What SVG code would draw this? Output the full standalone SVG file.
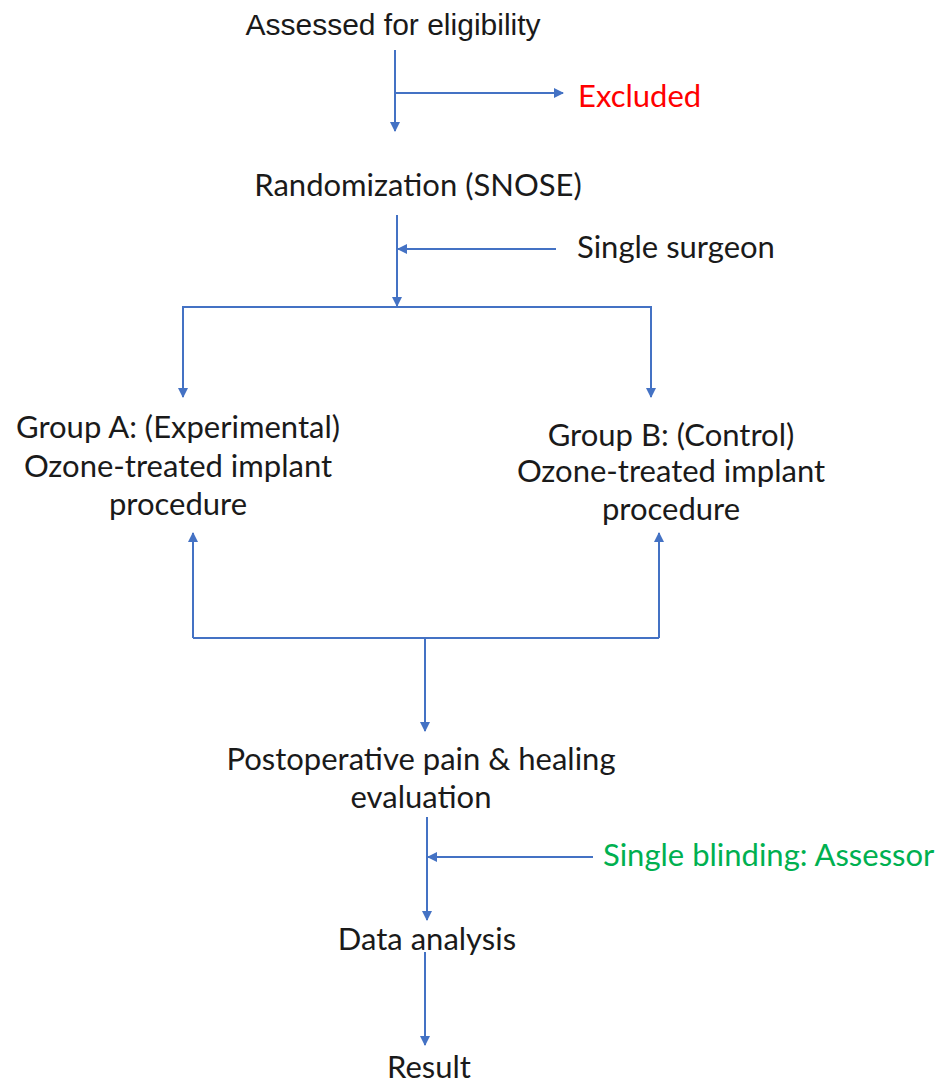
<svg xmlns="http://www.w3.org/2000/svg" width="947" height="1086" viewBox="0 0 947 1086">
<defs>
<marker id="ah" markerWidth="10" markerHeight="10" viewBox="0 0 10 10" refX="9" refY="5" orient="auto" markerUnits="userSpaceOnUse">
<path d="M0,0 L10,5 L0,10 z" fill="#4472C4"/>
</marker>
</defs>
<style>
.c{fill:none;stroke:#4472C4;stroke-width:2}
.t{font-family:Lato,"Noto Sans",sans-serif;font-size:31px;fill:#1a1a1a;text-anchor:middle}
.a{font-family:"Liberation Sans",Arial,sans-serif;font-size:30px;fill:#1a1a1a;text-anchor:middle}
</style>
<rect width="947" height="1086" fill="#fff"/>
<g id="connectors">
<path class="c" d="M395,50 V131" marker-end="url(#ah)"/>
<path class="c" d="M395,93 H563" marker-end="url(#ah)"/>
<path class="c" d="M397,215 V306" marker-end="url(#ah)"/>
<path class="c" d="M556,249 H398" marker-end="url(#ah)"/>
<path class="c" d="M183,397 V307 H651 V397" marker-end="url(#ah)"/>
<path class="c" d="M183,307 V397" marker-end="url(#ah)"/>
<path class="c" d="M193,638 V533" marker-end="url(#ah)"/>
<path class="c" d="M659,638 V533" marker-end="url(#ah)"/>
<path class="c" d="M193,638 H659"/>
<path class="c" d="M425,638 V731" marker-end="url(#ah)"/>
<path class="c" d="M427,817 V920" marker-end="url(#ah)"/>
<path class="c" d="M593,857 H428" marker-end="url(#ah)"/>
<path class="c" d="M425,952 V1045" marker-end="url(#ah)"/>
</g>
<g id="assessed"><text class="a" x="393" y="35">Assessed for eligibility</text></g>
<g id="excluded"><text class="t" x="578" y="107" style="text-anchor:start;fill:#FF0000">Excluded</text></g>
<g id="randomization"><text class="t" x="418" y="196">Randomization (SNOSE)</text></g>
<g id="surgeon"><text class="t" x="577" y="258" style="text-anchor:start">Single surgeon</text></g>
<g id="groupA"><text class="t" x="178" y="438">Group A: (Experimental)</text><text class="t" x="178" y="477">Ozone-treated implant</text><text class="t" x="178" y="515">procedure</text></g>
<g id="groupB"><text class="t" x="671" y="446">Group B: (Control)</text><text class="t" x="671" y="482">Ozone-treated implant</text><text class="t" x="671" y="520">procedure</text></g>
<g id="postop"><text class="t" x="421" y="770">Postoperative pain &amp; healing</text><text class="t" x="421" y="808">evaluation</text></g>
<g id="blinding"><text class="t" x="603" y="866" style="text-anchor:start;fill:#00B050">Single blinding: Assessor</text></g>
<g id="data"><text class="t" x="427" y="950">Data analysis</text></g>
<g id="result"><text class="t" x="429" y="1078">Result</text></g>
</svg>
